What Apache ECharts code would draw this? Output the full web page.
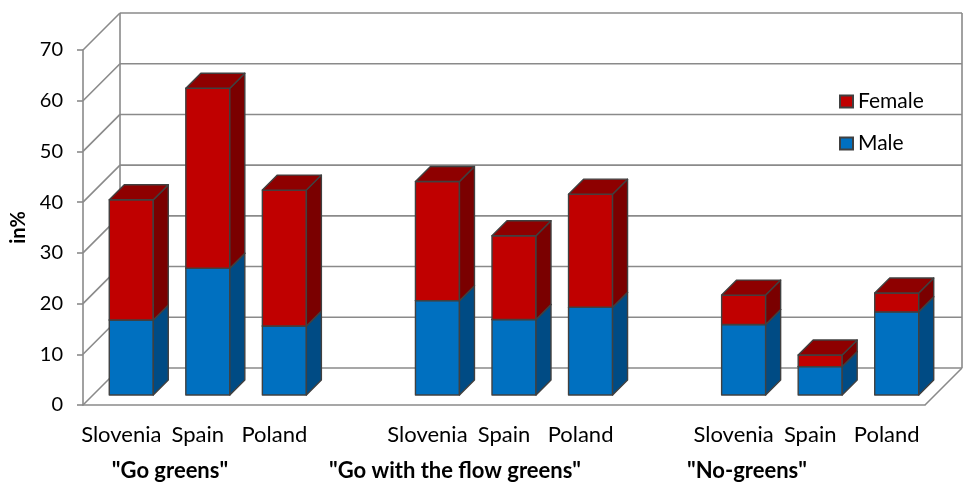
<!DOCTYPE html>
<html>
<head>
<meta charset="utf-8">
<script src="https://cdn.jsdelivr.net/npm/echarts@6/dist/echarts.min.js"></script>
<style>
  html, body { margin: 0; padding: 0; background: #ffffff; }
  #chart { width: 963px; height: 484px; }
</style>
</head>
<body>
<div id="chart"></div>
<script>
// Country slots along the floor; empty strings leave a gap between groups
const categories = ['Slovenia', 'Spain', 'Poland', '', 'Slovenia', 'Spain', 'Poland', '', 'Slovenia', 'Spain', 'Poland'];
const groupNames = ['"Go greens"', '"Go with the flow greens"', '"No-greens"'];
const male   = [14.8, 25.0, 13.6, null, 18.6, 14.9, 17.3, null, 13.9, 5.6, 16.4];
const female = [23.7, 35.5, 26.8, null, 23.5, 16.5, 22.3, null, 5.8, 2.3, 3.7];
const yTicks = [0, 10, 20, 30, 40, 50, 60, 70];

const FONT = 'Lato, "Open Sans", sans-serif';
const GRID_COLOR = '#8a8a8a';
const EDGE_COLOR = '#404040';
const DEPTH = 37;      // depth of the box walls (oblique projection)
const BAR_NEAR = 10;   // bar front face distance behind the floor edge
const BAR_FAR = 25;    // bar back face distance
const BAR_WIDTH = 0.575;

const maleColors   = { front: '#0070c0', side: '#004b84', top: '#005a9c' };
const femaleColors = { front: '#c00000', side: '#7a0000', top: '#8e0000' };

const maleData = [];
const femaleData = [];
categories.forEach((c, i) => {
  if (male[i] == null) return;
  maleData.push([i, 0, male[i]]);
  femaleData.push([i, male[i], male[i] + female[i]]);
});

function seg(x1, y1, x2, y2) {
  return {
    type: 'line',
    shape: { x1, y1, x2, y2 },
    style: { stroke: GRID_COLOR, lineWidth: 1.6 }
  };
}

// Back wall, side wall and floor of the box
function wallItem(params, api) {
  const v = api.value(1);
  const cs = params.coordSys;
  const left = cs.x, right = cs.x + cs.width;
  const y = api.coord([0, v])[1];
  const children = [
    seg(left, y, left + DEPTH, y - DEPTH),
    seg(left + DEPTH, y - DEPTH, right + DEPTH, y - DEPTH)
  ];
  if (v === yTicks[0]) {
    children.push(seg(right, y, right + DEPTH, y - DEPTH));
  }
  if (v === yTicks[yTicks.length - 1]) {
    const yBottom = api.coord([0, yTicks[0]])[1] - DEPTH;
    const yTop = y - DEPTH;
    children.push(seg(left + DEPTH, yTop, left + DEPTH, yBottom));
    children.push(seg(right + DEPTH, yTop, right + DEPTH, yBottom));
  }
  return { type: 'group', children };
}

// Oblique 3D box for one stacked segment
function barItem(colors) {
  return function (params, api) {
    const slot = api.value(0);
    const lo = api.value(1), hi = api.value(2);
    const pLo = api.coord([slot, lo]);
    const pHi = api.coord([slot, hi]);
    const w = api.size([1, 0])[0] * BAR_WIDTH;
    const x0 = pLo[0] - w / 2 + BAR_NEAR;
    const x1 = x0 + w;
    const yb = pLo[1] - BAR_NEAR;
    const yt = pHi[1] - BAR_NEAR;
    const d = BAR_FAR - BAR_NEAR;
    const edge = { stroke: EDGE_COLOR, lineWidth: 1.4, lineJoin: 'round' };
    return {
      type: 'group',
      children: [
        { type: 'polygon', shape: { points: [[x0, yb], [x1, yb], [x1, yt], [x0, yt]] },
          style: Object.assign({ fill: colors.front }, edge) },
        { type: 'polygon', shape: { points: [[x1, yb], [x1 + d, yb - d], [x1 + d, yt - d], [x1, yt]] },
          style: Object.assign({ fill: colors.side }, edge) },
        { type: 'polygon', shape: { points: [[x0, yt], [x1, yt], [x1 + d, yt - d], [x0 + d, yt - d]] },
          style: Object.assign({ fill: colors.top }, edge) }
      ]
    };
  };
}

const chart = echarts.init(document.getElementById('chart'), null, { renderer: 'canvas' });

const option = {
  animation: false,
  backgroundColor: '#ffffff',
  textStyle: { fontFamily: FONT },
  grid: { left: 83, right: 38, top: 50, bottom: 79, containLabel: false, outerBoundsMode: 'none' },
  legend: {
    data: ['Female', 'Male'],
    orient: 'vertical',
    left: 834,
    top: 86,
    itemWidth: 13,
    itemHeight: 12,
    itemGap: 21,
    icon: 'rect',
    textStyle: { fontFamily: FONT, fontSize: 21, color: '#000000' }
  },
  xAxis: {
    type: 'category',
    data: categories,
    axisLine: { show: true, lineStyle: { color: GRID_COLOR, width: 1.6 } },
    axisTick: { show: false },
    splitLine: { show: false },
    axisLabel: { interval: 0, margin: 19, fontSize: 22, color: '#000000', fontFamily: FONT }
  },
  yAxis: {
    type: 'value',
    min: 0,
    max: 70,
    interval: 10,
    name: 'in%',
    nameLocation: 'middle',
    nameRotate: 90,
    nameGap: 52,
    nameTextStyle: { fontFamily: FONT, fontSize: 20, fontWeight: 'bold', color: '#000000' },
    axisLine: { show: true, lineStyle: { color: GRID_COLOR, width: 1.6 } },
    axisTick: { show: true, length: 6, lineStyle: { color: GRID_COLOR, width: 1.6 } },
    splitLine: { show: false },
    axisLabel: { margin: 20, fontSize: 20, color: '#000000', fontFamily: FONT }
  },
  graphic: groupNames.map((name, i) => ({
    type: 'text',
    x: [170, 455, 747][i],
    y: 471,
    style: {
      text: name,
      font: 'bold 22px ' + FONT,
      fill: '#000000',
      textAlign: 'center',
      textVerticalAlign: 'middle'
    }
  })),
  series: [
    {
      name: 'walls',
      type: 'custom',
      silent: true,
      z: 1,
      data: yTicks.map(v => [0, v]),
      encode: { x: 0, y: 1 },
      renderItem: wallItem
    },
    {
      name: 'Male',
      type: 'custom',
      z: 2,
      itemStyle: { color: maleColors.front, borderColor: EDGE_COLOR, borderWidth: 1 },
      data: maleData,
      encode: { x: 0, y: [1, 2] },
      renderItem: barItem(maleColors)
    },
    {
      name: 'Female',
      type: 'custom',
      z: 3,
      itemStyle: { color: femaleColors.front, borderColor: EDGE_COLOR, borderWidth: 1 },
      data: femaleData,
      encode: { x: 0, y: [1, 2] },
      renderItem: barItem(femaleColors)
    }
  ]
};

chart.setOption(option);
</script>
</body>
</html>
